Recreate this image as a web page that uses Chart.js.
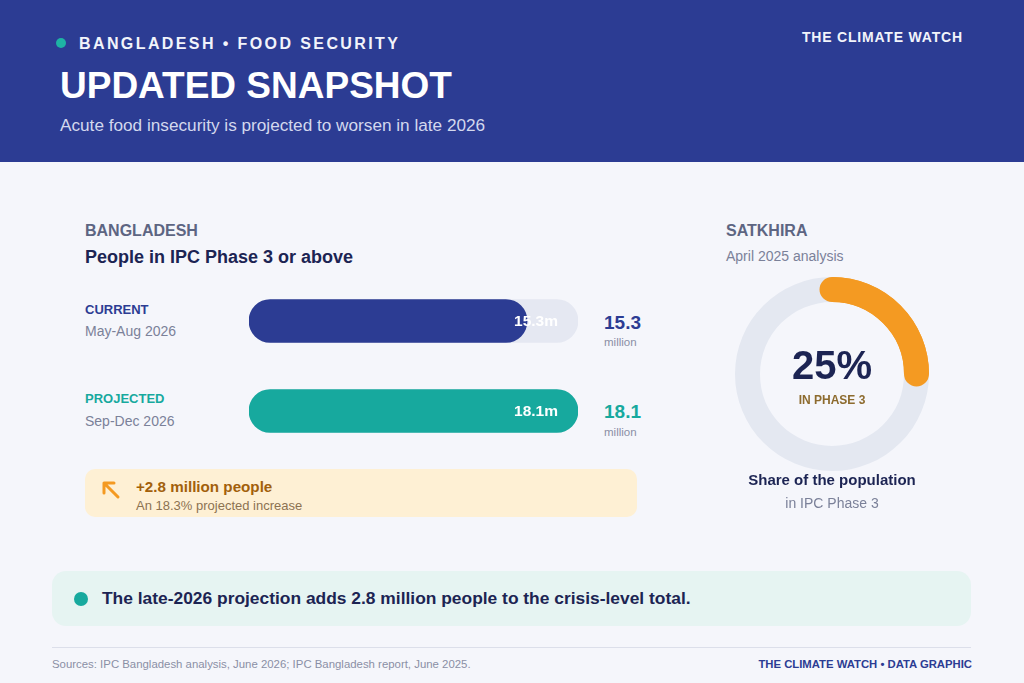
<!DOCTYPE html>
<html>
<head>
<meta charset="utf-8">
<script src="https://cdn.jsdelivr.net/npm/chart.js@4/dist/chart.umd.min.js"></script>
<style>
  body { margin: 0; width: 1024px; height: 683px; overflow: hidden; background: #F5F6FB;
         font-family: "Liberation Sans", Arial, Helvetica, sans-serif; position: relative; }
  .abs { position: absolute; white-space: nowrap; }
  .mid { transform: translateY(-50%); line-height: 1; }
  #header { position: absolute; left: 0; top: 0; width: 1024px; height: 162px; background: #2C3C93; }
  .box { position: absolute; }
</style>
</head>
<body>
<div id="header"></div>
<div class="abs" style="left:56px;top:38px;width:10px;height:10px;border-radius:50%;background:#1EB3A4;"></div>
<div class="abs mid" style="left:79px;top:44px;font-size:16px;font-weight:bold;letter-spacing:2.4px;color:#F2F4FB;">BANGLADESH • FOOD SECURITY</div>
<div class="abs mid" style="left:60px;top:85px;font-size:37px;font-weight:bold;color:#FFFFFF;">UPDATED SNAPSHOT</div>
<div class="abs mid" style="left:60px;top:126px;font-size:17.2px;color:#D3D8EE;">Acute food insecurity is projected to worsen in late 2026</div>
<div class="abs mid" style="left:802px;top:37px;font-size:14px;font-weight:bold;letter-spacing:0.8px;color:#F2F4FB;">THE CLIMATE WATCH</div>

<div class="abs mid" style="left:85px;top:231px;font-size:16px;font-weight:bold;color:#5D6582;">BANGLADESH</div>
<div class="abs mid" style="left:85px;top:257px;font-size:18px;font-weight:bold;color:#1C2453;">People in IPC Phase 3 or above</div>

<div class="abs mid" style="left:85px;top:309px;font-size:13px;font-weight:bold;color:#2C3C93;">CURRENT</div>
<div class="abs mid" style="left:85px;top:331px;font-size:14px;color:#7B8199;" id="period0"></div>
<div class="abs mid" style="left:85px;top:398px;font-size:13px;font-weight:bold;color:#17A99E;">PROJECTED</div>
<div class="abs mid" style="left:85px;top:421px;font-size:14px;color:#7B8199;" id="period1"></div>

<div class="abs" style="left:249px;top:276px;width:329px;height:180px;"><canvas id="bars"></canvas></div>

<div class="abs mid" style="left:604px;top:322px;font-size:19px;font-weight:bold;color:#2C3C93;" id="val0"></div>
<div class="abs mid" style="left:604px;top:343px;font-size:11.5px;color:#8A8FA5;">million</div>
<div class="abs mid" style="left:604px;top:411px;font-size:19px;font-weight:bold;color:#17A99E;" id="val1"></div>
<div class="abs mid" style="left:604px;top:433px;font-size:11.5px;color:#8A8FA5;">million</div>

<div class="box" style="left:85px;top:469px;width:552px;height:48px;border-radius:10px;background:#FEF0D4;"></div>
<svg class="abs" style="left:99px;top:478px;" width="24" height="24" viewBox="0 0 24 24">
  <path d="M19 19 L5 5 M5 5 L15 5 M5 5 L5 15" stroke="#F49A22" stroke-width="3" fill="none" stroke-linecap="round" stroke-linejoin="round"/>
</svg>
<div class="abs mid" style="left:136px;top:487px;font-size:15.2px;font-weight:bold;color:#A2600B;">+2.8 million people</div>
<div class="abs mid" style="left:136px;top:505px;font-size:13px;color:#8C7251;">An 18.3% projected increase</div>

<div class="abs mid" style="left:726px;top:231px;font-size:16px;font-weight:bold;color:#5D6582;">SATKHIRA</div>
<div class="abs mid" style="left:726px;top:256px;font-size:14px;color:#7B8199;">April 2025 analysis</div>
<div class="abs" style="left:735px;top:277px;width:194px;height:194px;"><canvas id="ring"></canvas></div>
<div class="abs mid" style="left:732px;width:200px;text-align:center;top:365px;font-size:40px;font-weight:bold;color:#1C2453;" id="shareText"></div>
<div class="abs mid" style="left:732px;width:200px;text-align:center;top:400px;font-size:12px;font-weight:bold;color:#8D6B2E;">IN PHASE 3</div>
<div class="abs mid" style="left:732px;width:200px;text-align:center;top:479px;font-size:15px;font-weight:bold;color:#1C2453;">Share of the population</div>
<div class="abs mid" style="left:732px;width:200px;text-align:center;top:503px;font-size:14px;color:#7B8199;">in IPC Phase 3</div>

<div class="box" style="left:52px;top:571px;width:919px;height:55px;border-radius:14px;background:#E6F4F2;"></div>
<div class="abs" style="left:74px;top:592px;width:14px;height:14px;border-radius:50%;background:#17A99E;"></div>
<div class="abs mid" style="left:102px;top:599px;font-size:17.4px;font-weight:bold;color:#1C2453;">The late-2026 projection adds 2.8 million people to the crisis-level total.</div>

<div class="box" style="left:52px;top:647px;width:919px;height:1px;background:#DCDFEA;"></div>
<div class="abs mid" style="left:52px;top:665px;font-size:11.4px;color:#8A8FA5;">Sources: IPC Bangladesh analysis, June 2026; IPC Bangladesh report, June 2025.</div>
<div class="abs mid" style="right:52px;top:665px;font-size:11.3px;font-weight:bold;color:#2C3C93;">THE CLIMATE WATCH • DATA GRAPHIC</div>

<script>
// values read from the graphic
const rowLabels = ['Current', 'Projected'];
const periods = ['May-Aug 2026', 'Sep-Dec 2026'];
const peopleMillions = [15.3, 18.1];
const trackMax = [18.1, 18.1];
const barColors = ['#2C3C93', '#17A99E'];

const shareLabels = ['In Phase 3', 'Rest of population'];
const shareValues = [25, 75];
const shareColors = ['#F49A22', '#E4E8F1'];

for (let i = 0; i < periods.length; i++) {
  document.getElementById('period' + i).textContent = periods[i];
  document.getElementById('val' + i).textContent = peopleMillions[i].toFixed(1);
}
document.getElementById('shareText').textContent = shareValues[0] + '%';

// white value label near the end of the track (as drawn in the source)
const barLabels = {
  id: 'barLabels',
  afterDatasetsDraw(chart) {
    const ctx = chart.ctx;
    const xs = chart.scales.x;
    const meta = chart.getDatasetMeta(0);
    ctx.save();
    ctx.font = 'bold 15.5px "Liberation Sans", Arial, sans-serif';
    ctx.fillStyle = '#FFFFFF';
    ctx.textAlign = 'right';
    ctx.textBaseline = 'middle';
    meta.data.forEach((bar, i) => {
      const end = xs.getPixelForValue(trackMax[i]);
      ctx.fillText(peopleMillions[i].toFixed(1) + 'm', end - 20, bar.y + 1);
    });
    ctx.restore();
  }
};

new Chart(document.getElementById('bars'), {
  type: 'bar',
  data: {
    labels: rowLabels,
    datasets: [
      {
        label: 'People (millions)',
        data: peopleMillions,
        backgroundColor: barColors,
        grouped: false,
        barThickness: 43,
        borderRadius: 22,
        borderSkipped: false,
      },
      {
        label: 'Track',
        data: trackMax,
        backgroundColor: '#E5E8F2',
        grouped: false,
        barThickness: 43,
        borderRadius: 22,
        borderSkipped: false,
      }
    ]
  },
  options: {
    indexAxis: 'y',
    animation: false,
    responsive: true,
    maintainAspectRatio: false,
    layout: { padding: 0 },
    plugins: { legend: { display: false }, tooltip: { enabled: false } },
    scales: {
      x: { display: false, min: 0, max: 18.1 },
      y: { display: false }
    }
  },
  plugins: [barLabels]
});

// rounded caps on the highlighted arc
const roundCap = {
  id: 'roundCap',
  afterDatasetsDraw(chart) {
    const arc = chart.getDatasetMeta(0).data[0];
    const p = arc.getProps(['x', 'y', 'startAngle', 'endAngle', 'innerRadius', 'outerRadius'], true);
    const ctx = chart.ctx;
    ctx.save();
    ctx.beginPath();
    ctx.arc(p.x, p.y, (p.innerRadius + p.outerRadius) / 2, p.startAngle, p.endAngle);
    ctx.lineWidth = p.outerRadius - p.innerRadius;
    ctx.lineCap = 'round';
    ctx.strokeStyle = shareColors[0];
    ctx.stroke();
    ctx.restore();
  }
};

new Chart(document.getElementById('ring'), {
  type: 'doughnut',
  data: {
    labels: shareLabels,
    datasets: [{
      data: shareValues,
      backgroundColor: shareColors,
      borderWidth: 0,
    }]
  },
  options: {
    animation: false,
    responsive: true,
    maintainAspectRatio: false,
    cutout: 72,
    layout: { padding: 0 },
    plugins: { legend: { display: false }, tooltip: { enabled: false } }
  },
  plugins: [roundCap]
});
</script>
</body>
</html>
